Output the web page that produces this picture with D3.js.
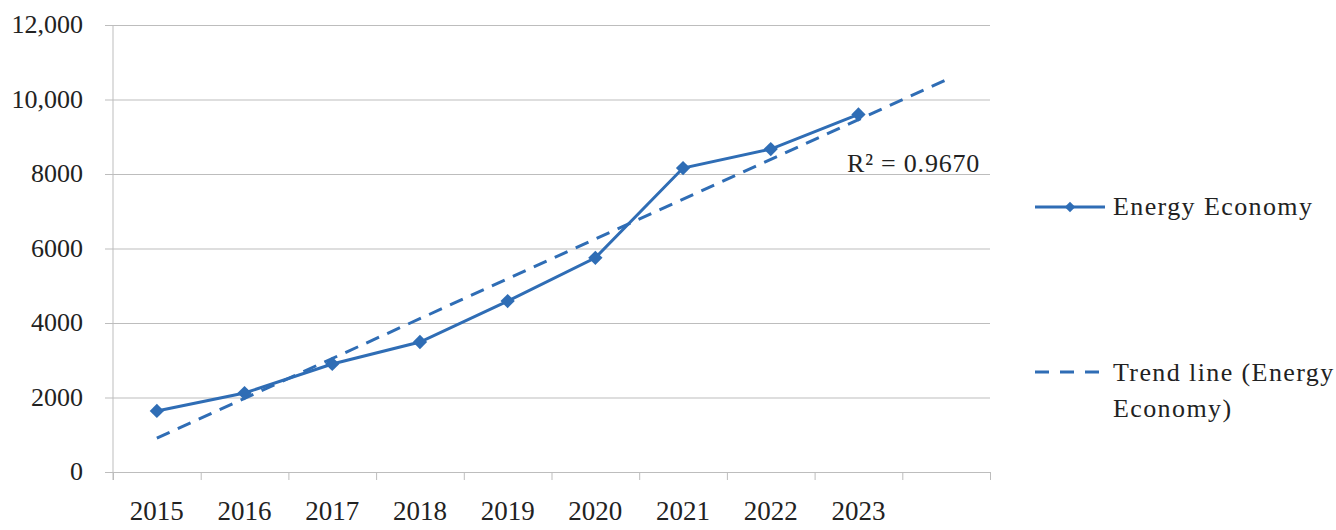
<!DOCTYPE html>
<html>
<head>
<meta charset="utf-8">
<script src="https://cdn.jsdelivr.net/npm/d3@7"></script>
<style>
  body { margin: 0; background: #fff; }
  svg text { font-family: "Liberation Serif", "DejaVu Serif", serif; fill: #222; }
</style>
</head>
<body>
<svg id="chart"></svg>
<script>
const years = [2015, 2016, 2017, 2018, 2019, 2020, 2021, 2022, 2023];
const energyEconomy = [1640, 2120, 2900, 3490, 4590, 5750, 8160, 8670, 9600];
// trend line end points (forecast one period forward)
const trendYears = [2015, 2024];
const trendValues = [910, 10530];
const yTicks = [0, 2000, 4000, 6000, 8000, 10000, 12000];
const seriesName = 'Energy Economy';
const trendName = ['Trend line (Energy', 'Economy)'];
const r2Label = 'R² = 0.9670';

const W = 1336, H = 530;
const margin = { top: 25, right: 346, bottom: 58, left: 113 };
const width = W - margin.left - margin.right;
const height = H - margin.top - margin.bottom;
const blue = '#2f6db5';
const grid = '#bdbdbd';

const svg = d3.select('#chart').attr('width', W).attr('height', H);
const chart = svg.append('g').attr('transform', `translate(${margin.left},${margin.top})`);

const x = d3.scaleLinear().domain([2014.5, 2024.5]).range([0, width]);
const y = d3.scaleLinear().domain([0, 12000]).range([height, 0]);

const fmt = v => v >= 10000 ? d3.format(',')(v) : String(v);

// gridlines + y labels
chart.append('g')
  .call(d3.axisLeft(y).tickValues(yTicks).tickSize(-width).tickPadding(30).tickFormat(fmt))
  .call(g => g.select('.domain').remove())
  .call(g => g.selectAll('.tick line').attr('stroke', grid).attr('x1', -8))
  .call(g => g.selectAll('.tick text').style('font-size', '26px').attr('dy', '0.3em'));

// y axis line
chart.append('line')
  .attr('x1', 0).attr('x2', 0).attr('y1', 0).attr('y2', height + 8)
  .attr('stroke', grid);

// x axis ticks at category boundaries
const bounds = d3.range(2014.5, 2025, 1);
chart.append('g')
  .attr('transform', `translate(0,${height})`)
  .call(d3.axisBottom(x).tickValues(bounds).tickSize(8).tickFormat(''))
  .call(g => g.selectAll('line, path').attr('stroke', grid));

// x labels at category centres
chart.append('g').selectAll('text')
  .data(years)
  .join('text')
  .attr('x', d => x(d))
  .attr('y', height + 48)
  .attr('text-anchor', 'middle')
  .style('font-size', '27px')
  .text(d => d);

// trend line
chart.append('path')
  .datum(trendYears.map((yr, i) => [yr, trendValues[i]]))
  .attr('fill', 'none')
  .attr('stroke', blue)
  .attr('stroke-width', 3)
  .attr('stroke-dasharray', '14,9')
  .attr('d', d3.line().x(d => x(d[0])).y(d => y(d[1])));

// series line
const pts = years.map((yr, i) => [yr, energyEconomy[i]]);
chart.append('path')
  .datum(pts)
  .attr('fill', 'none')
  .attr('stroke', blue)
  .attr('stroke-width', 3)
  .attr('d', d3.line().x(d => x(d[0])).y(d => y(d[1])));

const diamond = d3.symbol().type(d3.symbolDiamond2).size(130);
chart.selectAll('.pt')
  .data(pts)
  .join('path')
  .attr('class', 'pt')
  .attr('transform', d => `translate(${x(d[0])},${y(d[1])})`)
  .attr('fill', blue)
  .attr('d', diamond);

// R² label
chart.append('text')
  .attr('x', 734).attr('y', 147)
  .style('font-size', '26px')
  .style('letter-spacing', '0.8px')
  .text(r2Label);

// legend
const lg = svg.append('g').style('font-size', '26px').style('letter-spacing', '1.4px');
lg.append('line').attr('x1', 1035).attr('x2', 1105).attr('y1', 207).attr('y2', 207)
  .attr('stroke', blue).attr('stroke-width', 3);
lg.append('path').attr('transform', 'translate(1070,207)').attr('fill', blue)
  .attr('d', d3.symbol().type(d3.symbolDiamond2).size(70));
lg.append('text').attr('x', 1113).attr('y', 215).text(seriesName);

lg.append('line').attr('x1', 1035).attr('x2', 1099).attr('y1', 372).attr('y2', 372)
  .attr('stroke', blue).attr('stroke-width', 3).attr('stroke-dasharray', '14,11');
lg.selectAll('.tl')
  .data(trendName)
  .join('text')
  .attr('x', 1113).attr('y', (d, i) => 381 + i * 36)
  .text(d => d);
</script>
</body>
</html>
